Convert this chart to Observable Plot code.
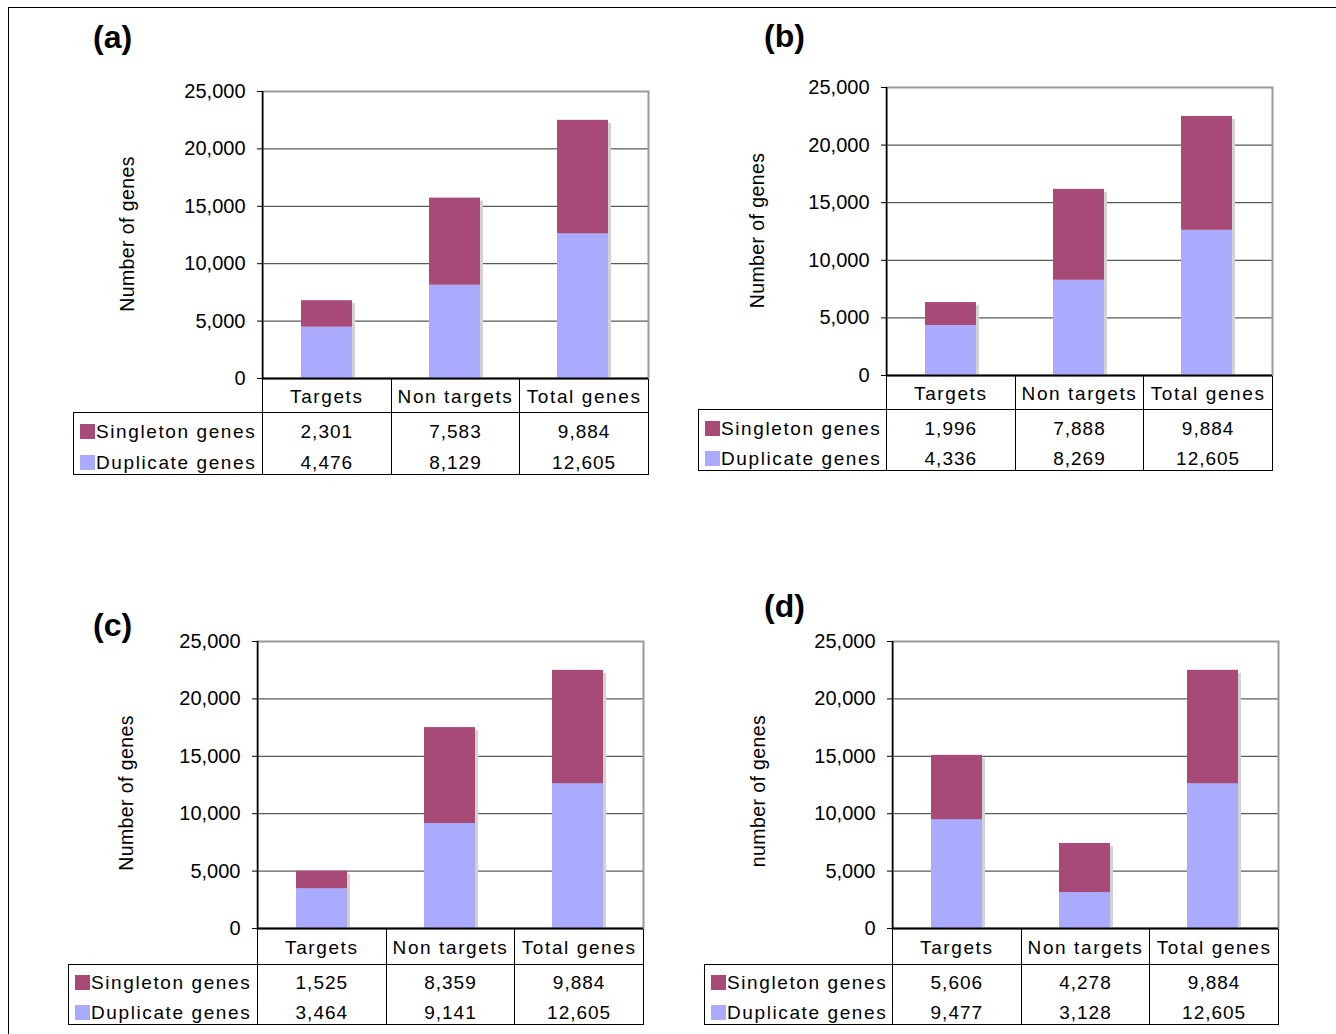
<!DOCTYPE html>
<html>
<head>
<meta charset="utf-8">
<script src="https://cdn.jsdelivr.net/npm/d3@7"></script>
<script src="https://cdn.jsdelivr.net/npm/@observablehq/plot@0.6"></script>
<style>
  html, body { margin: 0; padding: 0; background: #fff; }
  #root { position: relative; width: 1336px; height: 1034px; overflow: hidden; font-family: "Liberation Sans", Arial, sans-serif; }
  .pageborder { position: absolute; left: 8px; top: 7px; width: 1400px; height: 1100px; border-top: 1.5px solid #000; border-left: 1.5px solid #000; }
  .plabel { position: absolute; font-weight: bold; font-size: 32px; line-height: 32px; color: #000; }
  .panelsvg { position: absolute; }
  .panelsvg g[aria-label="y-axis tick label"] text { font-size: 20px; }
  .panelsvg g[aria-label="y-axis label"] text { font-size: 19.5px; letter-spacing: 0.4px; }
  table.dt { position: absolute; border-collapse: collapse; table-layout: fixed; font-size: 19px; color: #000; }
  table.dt td { padding: 0; text-align: center; white-space: nowrap; overflow: visible; vertical-align: bottom; line-height: 22px; }
  table.dt tr.hd td { vertical-align: middle; padding-top: 3px; }
  table.dt td.cat { letter-spacing: 1.6px; border-right: 1px solid #000; }
  table.dt td.blank { border-right: 1px solid #000; }
  table.dt td.leg { text-align: left; letter-spacing: 1.6px; border-left: 1px solid #000; border-right: 1px solid #000; padding-left: 6px; }
  table.dt td.val { letter-spacing: 1px; border-right: 1px solid #000; }
  table.dt tr.r1 td { border-top: 1px solid #000; }
  table.dt tr.r2 td { border-bottom: 1px solid #000; }
  .sw { display: inline-block; width: 15px; height: 15px; margin-right: 1px; vertical-align: -1px; }
</style>
</head>
<body>
<div id="root"><div class="pageborder"></div></div>
<script>
// ---- data ----
const categories = ["Targets", "Non targets", "Total genes"];
const seriesNames = ["Singleton genes", "Duplicate genes"];
const seriesColors = ["#a84a77", "#aaaaff"];
const yTicks = [0, 5000, 10000, 15000, 20000, 25000];

const singletonA = [2301, 7583, 9884];
const duplicateA = [4476, 8129, 12605];
const singletonB = [1996, 7888, 9884];
const duplicateB = [4336, 8269, 12605];
const singletonC = [1525, 8359, 9884];
const duplicateC = [3464, 9141, 12605];
const singletonD = [5606, 4278, 9884];
const duplicateD = [9477, 3128, 12605];

const panelLabels = ["(a)", "(b)", "(c)", "(d)"];
const yLabels = ["Number of genes", "Number of genes", "Number of genes", "number of genes"];

// ---- layout (page pixels) ----
const layouts = [
  {axisX: 262, right: 648, top: 91, zero: 378, headH: 33, rowH: 31, legLeft: 73, labelOff: 142, labelShift: -1, lx: 93, ly: 21},
  {axisX: 886, right: 1272, top: 87, zero: 375, headH: 33, rowH: 30.5, legLeft: 698, labelOff: 136, labelShift: -1, lx: 764, ly: 20},
  {axisX: 257, right: 643, top: 641, zero: 928, headH: 35, rowH: 30, legLeft: 68, labelOff: 138, labelShift: 8, lx: 93, ly: 609},
  {axisX: 892, right: 1278, top: 641, zero: 928, headH: 35, rowH: 30, legLeft: 704, labelOff: 141, labelShift: 6, lx: 764, ly: 590}
];
const panelData = [
  [singletonA, duplicateA], [singletonB, duplicateB], [singletonC, duplicateC], [singletonD, duplicateD]
];

const root = document.getElementById("root");
const fmt = d3.format(",");

layouts.forEach((p, k) => {
  const [singleton, duplicate] = panelData[k];
  const rows = [];
  categories.forEach((c, i) => rows.push({cat: c, series: seriesNames[1], value: duplicate[i]}));
  categories.forEach((c, i) => rows.push({cat: c, series: seriesNames[0], value: singleton[i]}));
  const totals = categories.map((c, i) => ({cat: c, total: singleton[i] + duplicate[i]}));

  const svgLeft = p.axisX - 160, svgTop = p.top - 12;
  const mL = p.axisX - svgLeft, mT = p.top - svgTop, mR = 4, mB = 4;
  const plotW = p.right - p.axisX, plotH = p.zero - p.top;

  const chart = Plot.plot({
    width: mL + plotW + mR,
    height: mT + plotH + mB,
    marginLeft: mL, marginTop: mT, marginRight: mR, marginBottom: mB,
    x: {domain: categories, paddingInner: 0.6, paddingOuter: 0.3, axis: null},
    y: {domain: [0, 25000]},
    color: {domain: seriesNames, range: seriesColors},
    style: {fontFamily: "'Liberation Sans', Arial, sans-serif", fontSize: "19px", color: "#000", background: "transparent", overflow: "visible"},
    marks: [
      Plot.ruleY(yTicks.slice(1, -1), {stroke: "#333", strokeWidth: 1}),
      Plot.frame({stroke: "#999", strokeWidth: 2}),
      Plot.barY(totals, {x: "cat", y: "total", fill: "#d2d2d2", dx: 3, dy: 3, clip: true}),
      Plot.barY(rows, {x: "cat", y: "value", fill: "series"}),
      Plot.axisY({ticks: yTicks, tickFormat: fmt, tickSize: 5, tickPadding: 12, label: yLabels[k], labelAnchor: "center", labelArrow: "none", labelOffset: p.labelOff}),
      Plot.ruleX([categories[0]], {dx: -plotW / 6, stroke: "#000", strokeWidth: 1.5}),
      Plot.ruleY([0], {stroke: "#000", strokeWidth: 2})
    ]
  });
  chart.classList.add("panelsvg");
  chart.style.left = svgLeft + "px";
  chart.style.top = svgTop + "px";
  const lg = chart.querySelector('g[aria-label="y-axis label"]');
  if (lg) {
    const t0 = lg.getAttribute("transform") || "";
    lg.setAttribute("transform", `${t0} translate(0,${p.labelShift})`);
  }
  root.appendChild(chart);

  // panel label
  const lab = document.createElement("div");
  lab.className = "plabel";
  lab.textContent = panelLabels[k];
  lab.style.left = p.lx + "px";
  lab.style.top = p.ly + "px";
  root.appendChild(lab);

  // data table under the chart
  const legW = p.axisX - p.legLeft;
  const colW = plotW / 3;
  const table = document.createElement("table");
  table.className = "dt";
  table.style.left = p.legLeft + "px";
  table.style.top = (p.zero + 1) + "px";
  table.style.width = (p.right - p.legLeft) + "px";
  const cg = document.createElement("colgroup");
  [legW, colW, colW, colW].forEach(w => { const c = document.createElement("col"); c.style.width = w + "px"; cg.appendChild(c); });
  table.appendChild(cg);
  const head = document.createElement("tr");
  head.className = "hd";
  head.style.height = p.headH + "px";
  const blank = document.createElement("td"); blank.className = "blank"; head.appendChild(blank);
  categories.forEach(c => { const td = document.createElement("td"); td.className = "cat"; td.textContent = c; head.appendChild(td); });
  table.appendChild(head);
  const vals = [singleton, duplicate];
  seriesNames.forEach((s, j) => {
    const tr = document.createElement("tr");
    tr.className = j === 0 ? "r1" : "r2";
    tr.style.height = p.rowH + "px";
    const lgc = document.createElement("td"); lgc.className = "leg";
    const sw = document.createElement("span"); sw.className = "sw"; sw.style.background = seriesColors[j];
    lgc.appendChild(sw); lgc.appendChild(document.createTextNode(s));
    tr.appendChild(lgc);
    vals[j].forEach(v => { const td = document.createElement("td"); td.className = "val"; td.textContent = fmt(v); tr.appendChild(td); });
    table.appendChild(tr);
  });
  root.appendChild(table);
});
</script>
</body>
</html>
